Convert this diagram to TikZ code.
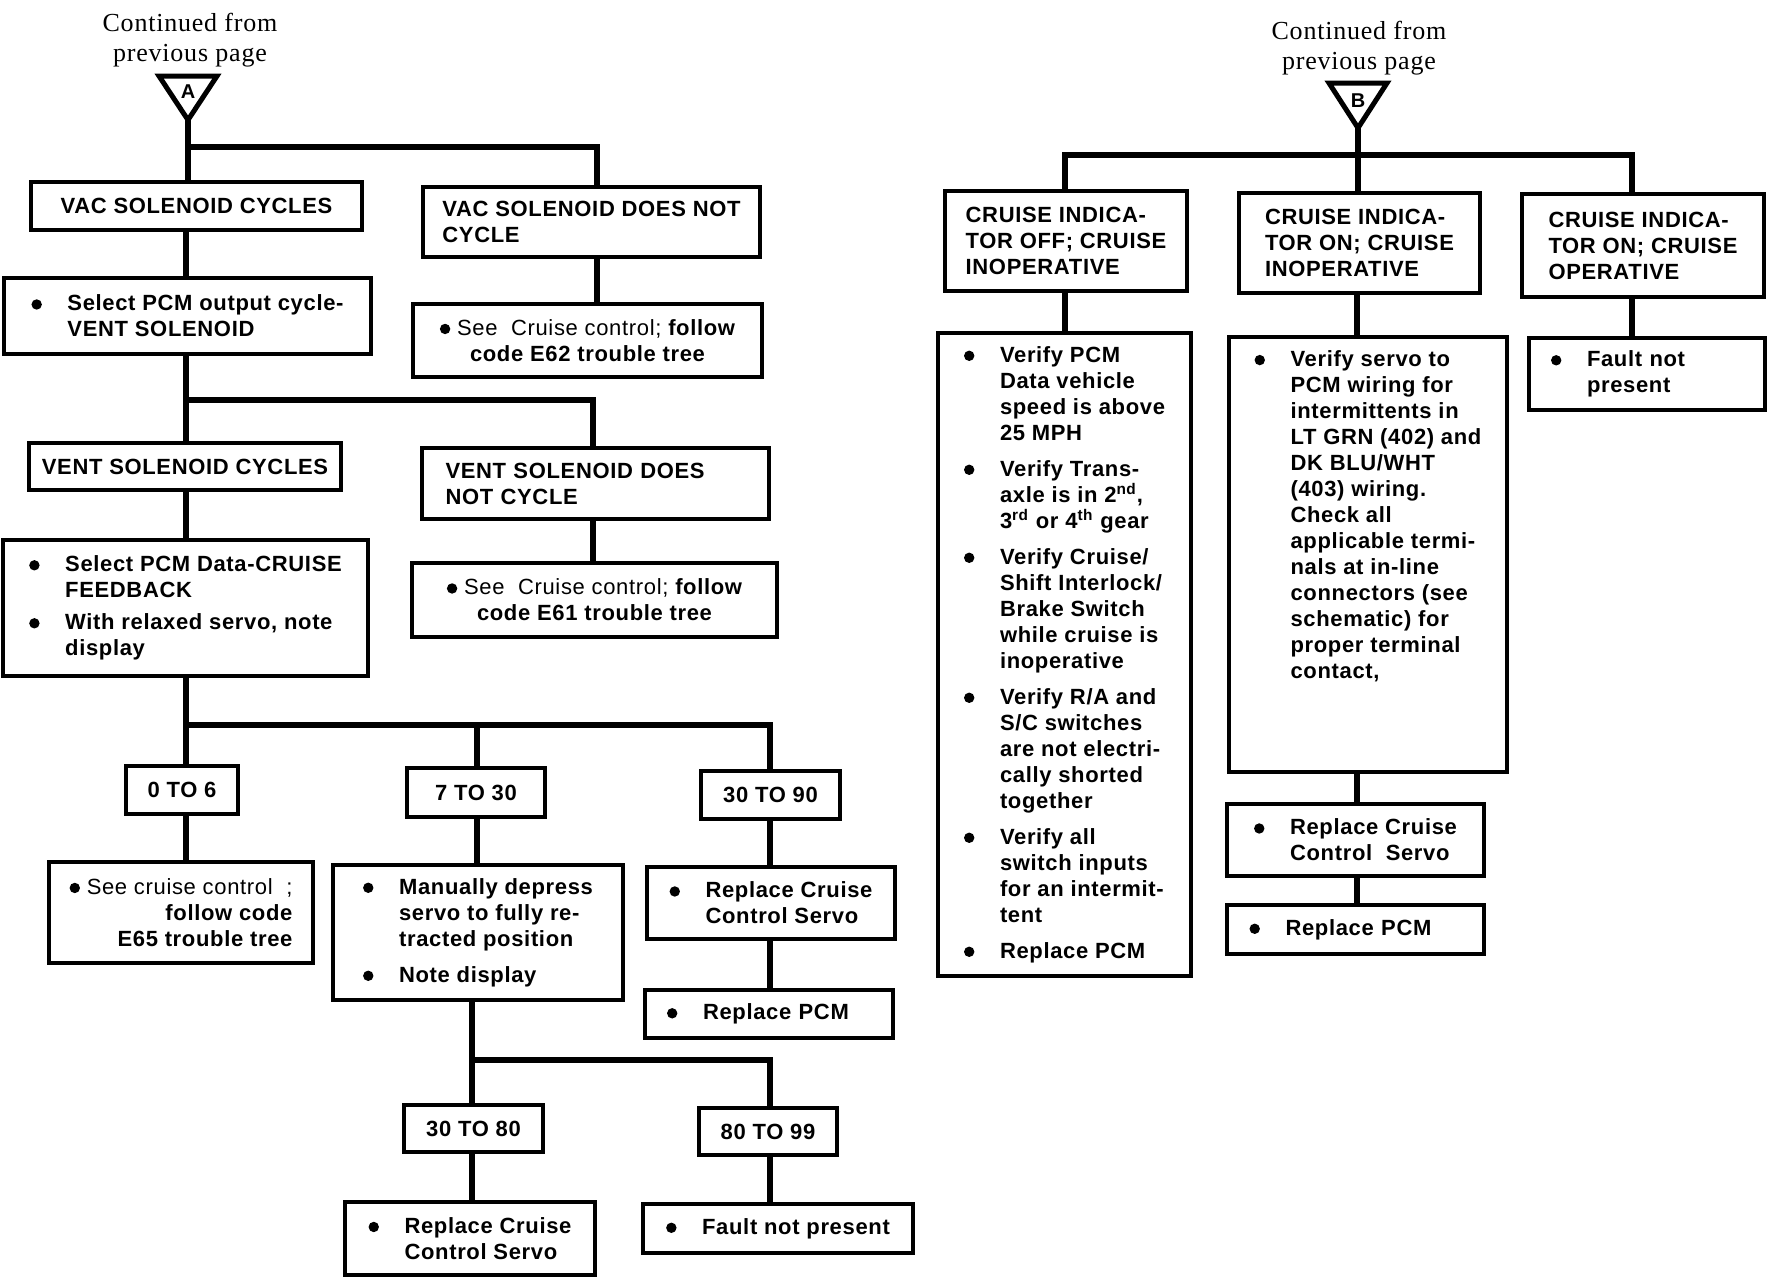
\documentclass[tikz,border=0pt]{standalone}
\usepackage{fontspec}
\setmainfont{Liberation Sans}[LetterSpace=3]
\newfontfamily\contfont{Liberation Serif}[LetterSpace=3]

\newcommand{\bdot}{\tikz[baseline=-3.2pt]\fill (0,0) circle (2.6pt);}
\newcommand{\bulit}{\makebox[18pt][l]{\bdot}}
\newcommand{\indln}{\hspace*{18pt}}

\tikzset{
    box/.style={draw, line width=1.8pt, inner sep=0pt, align=left,
        font=\fontsize{11}{13}\selectfont\bfseries},
    ctrbox/.style={box, align=center},
    conn/.style={line width=2.6pt},
    tri/.style={line width=2.5pt, line join=miter},
    cont/.style={align=center, font=\contfont\fontsize{13}{15}\selectfont},
    letter/.style={font=\fontsize{10}{10}\selectfont\bfseries},
}

\begin{document}
\begin{tikzpicture}[x=0.5pt,y=-0.5pt]
                \useasboundingbox (0,0) rectangle (1768,1280);

                % left tree
                \node (contA) at (190,40) [cont] {Continued from\\previous page};
                \coordinate (apexA) at (188,120);
                \draw [tri] (apexA) -- ++(-29,-44) -- ++(58,0) -- cycle;
                \node (lblA) at (188,92) [letter] {A};

                \node (vacok) at (196.5,206) [box, minimum width=165.5pt, minimum height=24pt] {VAC SOLENOID CYCLES};
                \node (vacfail) at (591.5,222) [box, minimum width=168.5pt, minimum height=35pt] {VAC SOLENOID DOES NOT\\CYCLE};
                \node (seeE62) at (587.5,340.5) [ctrbox, minimum width=174.5pt, minimum height=36.5pt] {\bdot\ {\mdseries See~~Cruise control;} follow\\code E62 trouble tree};
                \node (pcmvent) at (187.5,316) [box, minimum width=183.5pt, minimum height=38pt] {\bulit Select PCM output cycle-\\\indln VENT SOLENOID};

                \node (ventok) at (185,466.5) [box, minimum width=156pt, minimum height=23.5pt] {VENT SOLENOID CYCLES};
                \node (ventfail) at (595.5,483.5) [box, minimum width=173.5pt, minimum height=35.5pt, text width=150pt] {VENT SOLENOID DOES\\NOT CYCLE};
                \node (seeE61) at (594.5,600) [ctrbox, minimum width=182.5pt, minimum height=37pt] {\bdot\ {\mdseries See~~Cruise control;} follow\\code E61 trouble tree};
                \node (pcmdata) at (185.5,608) [box, minimum width=182.5pt, minimum height=68pt] {\bulit Select PCM Data-CRUISE\\\indln FEEDBACK\\[3pt]\bulit With relaxed servo, note\\\indln display};

                \node (zeroto6) at (182,790) [box, minimum width=56pt, minimum height=24pt] {0 TO 6};
                \node (sevento30) at (476,792.5) [box, minimum width=69pt, minimum height=24.5pt] {7 TO 30};
                \node (thirtyto90) at (770.5,795) [box, minimum width=69.5pt, minimum height=24pt] {30 TO 90};

                \node (seeE65) at (181,912.5) [box, align=right, minimum width=132pt, minimum height=50.5pt] {\bdot\ {\mdseries See cruise control~~;}\\follow code\\E65 trouble tree};
                \node (depress) at (478,932.5) [box, minimum width=145pt, minimum height=67.5pt] {\bulit Manually depress\\\indln servo to fully re-\\\indln tracted position\\[5pt]\bulit Note display};
                \node (servoA) at (771,903) [box, minimum width=124pt, minimum height=36pt] {\bulit Replace Cruise\\\indln Control Servo};
                \node (pcmA) at (769,1014) [box, minimum width=124pt, minimum height=24pt, text width=102pt] {\bulit Replace PCM};

                \node (thirtyto80) at (473.5,1128.5) [box, minimum width=69.5pt, minimum height=23.5pt] {30 TO 80};
                \node (eightyto99) at (768,1131.5) [box, minimum width=69pt, minimum height=23.5pt] {80 TO 99};
                \node (servoB) at (470,1238.5) [box, minimum width=125pt, minimum height=36.5pt] {\bulit Replace Cruise\\\indln Control Servo};
                \node (faultA) at (778,1228.5) [box, minimum width=135pt, minimum height=24.5pt] {\bulit Fault not present};

                % right tree
                \node (contB) at (1359,48) [cont] {Continued from\\previous page};
                \coordinate (apexB) at (1358,128);
                \draw [tri] (apexB) -- ++(-29,-45) -- ++(58,0) -- cycle;
                \node (lblB) at (1358,101) [letter] {B};

                \node (cruoff) at (1066,241) [box, minimum width=121pt, minimum height=50pt] {CRUISE INDICA-\\TOR OFF; CRUISE\\INOPERATIVE};
                \node (cruonfail) at (1359.5,243) [box, minimum width=120.5pt, minimum height=50pt] {CRUISE INDICA-\\TOR ON; CRUISE\\INOPERATIVE};
                \node (cruonok) at (1643,245.5) [box, minimum width=121pt, minimum height=51.5pt] {CRUISE INDICA-\\TOR ON; CRUISE\\OPERATIVE};

                \node (checkoff) at (1064.5,654.5) [box, minimum width=126.5pt, minimum height=321.5pt] {\bulit Verify PCM\\\indln Data vehicle\\\indln speed is above\\\indln 25 MPH\\[5pt]
                    \bulit Verify Trans-\\\indln axle is in 2\textsuperscript{nd},\\\indln 3\textsuperscript{rd} or 4\textsuperscript{th} gear\\[5pt]
                    \bulit Verify Cruise/\\\indln Shift Interlock/\\\indln Brake Switch\\\indln while cruise is\\\indln inoperative\\[5pt]
                    \bulit Verify R/A and\\\indln S/C switches\\\indln are not electri-\\\indln cally shorted\\\indln together\\[5pt]
                    \bulit Verify all\\\indln switch inputs\\\indln for an intermit-\\\indln tent\\[5pt]
                    \bulit Replace PCM};
                \node (checkwire) at (1368,554.5) [box, minimum width=139pt, minimum height=217.5pt] {\bulit Verify servo to\\\indln PCM wiring for\\\indln intermittents in\\\indln LT GRN (402) and\\\indln DK BLU/WHT\\\indln (403) wiring.\\\indln Check all\\\indln applicable termi-\\\indln nals at in-line\\\indln connectors (see\\\indln schematic) for\\\indln proper terminal\\\indln contact,\\[27pt]\mbox{}};
                \node (faultB) at (1647,374) [box, minimum width=118pt, minimum height=36pt, text width=96pt] {\bulit Fault not\\\indln present};
                \node (servoC) at (1355.5,840) [box, minimum width=128.5pt, minimum height=36pt] {\bulit Replace Cruise\\\indln Control~~Servo};
                \node (pcmC) at (1355.5,929.5) [box, minimum width=128.5pt, minimum height=24.5pt, text width=106pt] {\bulit Replace PCM};

                % columns and splits
                \coordinate (coltrunk) at (186,0);
                \coordinate (colvac) at (597,0);
                \coordinate (colvent) at (593,0);
                \coordinate (col30) at (477,0);
                \coordinate (col90) at (770,0);
                \coordinate (col80) at (472,0);
                \coordinate (coloff) at (1065,0);
                \coordinate (colon) at (1357,0);
                \coordinate (colok) at (1632,0);
                \coordinate (splitA) at (188,147);
                \coordinate (splitB) at (186,400);
                \coordinate (splitC) at (186,725);
                \coordinate (splitD) at (472,1060);
                \coordinate (splitE) at (1358,155);

                \path [conn]
                    (apexA) edge (apexA |- vacok.north)
                    (vacok.south -| coltrunk) edge (pcmvent.north -| coltrunk)
                    (pcmvent.south -| coltrunk) edge (ventok.north -| coltrunk)
                    (ventok.south -| coltrunk) edge (pcmdata.north -| coltrunk)
                    (pcmdata.south -| coltrunk) edge (zeroto6.north -| coltrunk)
                    (zeroto6.south -| coltrunk) edge (seeE65.north -| coltrunk)
                    (vacfail.south -| colvac) edge (seeE62.north -| colvac)
                    (ventfail.south -| colvent) edge (seeE61.north -| colvent)
                    (sevento30.south -| col30) edge (depress.north -| col30)
                    (thirtyto90.south -| col90) edge (servoA.north -| col90)
                    (servoA.south -| col90) edge (pcmA.north -| col90)
                    (depress.south -| col80) edge (thirtyto80.north -| col80)
                    (thirtyto80.south -| col80) edge (servoB.north -| col80)
                    (eightyto99.south -| col90) edge (faultA.north -| col90)
                    (apexB) edge (apexB |- cruonfail.north)
                    (cruoff.south -| coloff) edge (checkoff.north -| coloff)
                    (cruonfail.south -| colon) edge (checkwire.north -| colon)
                    (checkwire.south -| colon) edge (servoC.north -| colon)
                    (servoC.south -| colon) edge (pcmC.north -| colon)
                    (cruonok.south -| colok) edge (faultB.north -| colok)
                ;
                \draw [conn] (splitA) -| (vacfail.north -| colvac);
                \draw [conn] (splitB) -| (ventfail.north -| colvent);
                \draw [conn] (splitC) -| (thirtyto90.north -| col90);
                \draw [conn] (splitC -| col30) -- (sevento30.north -| col30);
                \draw [conn] (splitD) -| (eightyto99.north -| col90);
                \draw [conn] (cruoff.north -| coloff) |- (splitE) -| (cruonok.north -| colok);
\end{tikzpicture}
\end{document}
